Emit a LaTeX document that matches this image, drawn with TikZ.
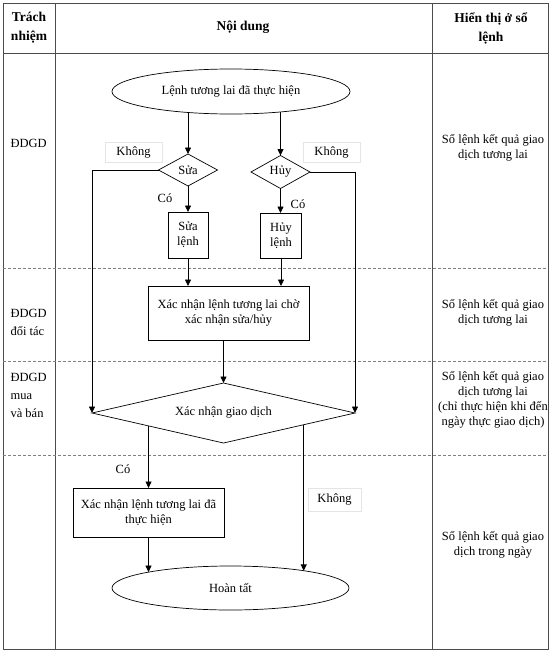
\documentclass[tikz,border=0pt]{standalone}
\usepackage{fontspec}
\setmainfont{Liberation Serif}
\usetikzlibrary{shapes.geometric,calc,arrows.meta}

\begin{document}
\begin{tikzpicture}[x=1pt,y=-1pt,
  font=\fontsize{12.5}{15}\selectfont,
  arr/.style={-{Triangle[length=6.5pt,width=6pt]},line width=0.8pt},
  flowbox/.style={draw,line width=0.7pt,rectangle,align=center,inner sep=0pt,outer sep=0pt},
  oval/.style={draw,line width=0.7pt,ellipse,inner sep=0pt,outer sep=0pt},
  choice/.style={draw,line width=0.7pt,diamond,inner sep=0pt,outer sep=0pt},
  tag/.style={draw=gray!20,inner sep=0pt,minimum width=57pt,minimum height=20pt},
  head/.style={font=\fontsize{13.5}{19}\selectfont\bfseries,align=center},
  role/.style={align=left,anchor=west,font=\fontsize{12.5}{18}\selectfont},
  book/.style={align=center}]
  \useasboundingbox (0,0) rectangle (553,653);
  % table
  \draw[gray!60!black,line width=0.9pt] (3,3) rectangle (548,649);
  \draw[gray!60!black,line width=0.8pt] (55,3) -- (55,649) (432,3) -- (432,649) (3,53) -- (548,53);
  \foreach \yy in {268,361,455}
    \draw[gray,densely dashed,line width=0.4pt] (3,\yy) -- (548,\yy);

  \node[head] (hresp) at (29,28) {Trách\\nhiệm};
  \node[head] (hcont) at (243,27) {Nội dung};
  \node[head] (hbook) at (491,28) {Hiển thị ở sổ\\lệnh};

  \node[role] (r1) at (7,143) {ĐDGD};
  \node[role] (r2) at (7,322) {ĐDGD\\đối tác};
  \node[role] (r3) at (7,395) {ĐDGD\\mua\\và bán};

  \node[book] (b1) at (493,148) {Sổ lệnh kết quả giao\\dịch tương lai};
  \node[book] (b2) at (493,312.5) {Sổ lệnh kết quả giao\\dịch tương lai};
  \node[book] (b3) at (493,399.5) {Sổ lệnh kết quả giao\\dịch tương lai\\(chỉ thực hiện khi đến\\ngày thực giao dịch)};
  \node[book] (b4) at (493,544.5) {Sổ lệnh kết quả giao\\dịch trong ngày};

  % flow
  \node[oval,minimum width=238pt,minimum height=45pt] (start) at (231,91.5) {Lệnh tương lai đã thực hiện};
  \node[choice,aspect=2,minimum width=59pt,minimum height=32pt] (fix) at (188,170) {Sửa};
  \node[choice,aspect=2,minimum width=59pt,minimum height=33pt] (cancel) at (280.5,172) {Hủy};
  \node[tag] (no1) at (133.5,152) {Không};
  \node[tag] (no2) at (331.5,152) {Không};
  \node (yes1) at (165,198) {Có};
  \node (yes2) at (298,204) {Có};
  \node[flowbox,minimum width=40pt,minimum height=46pt] (fixord) at (188,235) {Sửa\\lệnh};
  \node[flowbox,minimum width=41pt,minimum height=45pt] (cancelord) at (281,235.5) {Hủy\\lệnh};
  \node[flowbox,minimum width=161pt,minimum height=54pt] (wait) at (228.5,313) {Xác nhận lệnh tương lai chờ\\xác nhận sửa/hủy};
  \node[choice,aspect=4,minimum width=263pt,minimum height=60pt] (match) at (223.5,413) {\raisebox{4pt}{Xác nhận giao dịch}};
  \node (yes3) at (123,469) {Có};
  \node[flowbox,minimum width=151pt,minimum height=49pt] (confirm) at (148.5,512.5) {Xác nhận lệnh tương lai đã\\thực hiện};
  \node[tag,minimum width=53pt,minimum height=23pt] (no3) at (334.5,499.5) {Không};
  \node[oval,minimum width=237pt,minimum height=44pt] (finish) at (230.5,588) {Hoàn tất};

  \draw[arr] (fix.north |- start.206) -- (fix.north);
  \draw[arr] (cancel.north |- start.337) -- (cancel.north);
  \draw[arr] (fix.south) -- (fix.south |- fixord.north);
  \draw[arr] (cancel.south) -- (cancel.south |- cancelord.north);
  \draw[arr] (fixord.south) -- (fixord.south |- wait.north);
  \draw[arr] (cancelord.south) -- (cancelord.south |- wait.north);
  \draw[arr] (wait.south -| match.north) -- (match.north);
  \draw[arr] (fix.west) -| (match.west);
  \draw[arr] (cancel.east) -| (match.east);
  \coordinate (cut1) at ($(match.west)!0.43!(match.south)$);
  \coordinate (cut2) at ($(match.east)!0.39!(match.south)$);
  \draw[arr] (cut1) -- (cut1 |- confirm.north);
  \draw[arr] (cut2) -- (cut2 |- finish.13.5);
  \draw[arr] (confirm.south) -- (confirm.south |- finish.169);
\end{tikzpicture}
\end{document}
